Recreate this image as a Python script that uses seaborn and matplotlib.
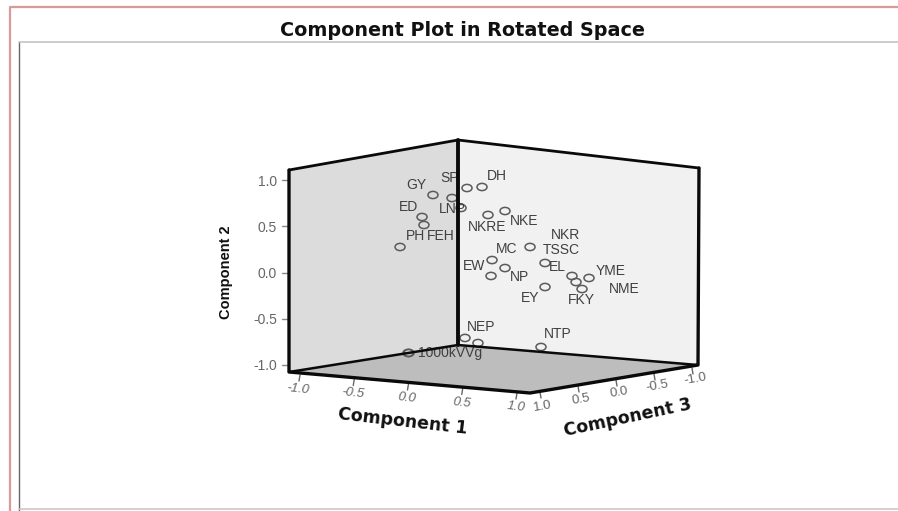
import matplotlib
matplotlib.use("Agg")
import matplotlib.pyplot as plt
from matplotlib.path import Path
from matplotlib.transforms import Affine2D
from matplotlib.markers import MarkerStyle
import seaborn as sns
import pandas as pd

# Values: plotted position in the projected plane,
# measured in Component 2 units from the centre of the back edge.
labels = ["GY", "SP", "DH", "LNP", "", "ED", "FEH", "PH", "NKRE", "NKE", "NKR", "MC",
          "NP", "EW", "TSSC", "EL", "NME", "FKY", "YME", "EY", "NEP", "", "1000kVVg", "", "NTP"]
plane_h = [-0.272, 0.098, 0.261, -0.065, 0.033, -0.391, -0.370, -0.630, 0.326, 0.511, 0.783, 0.370,
           0.511, 0.359, 0.946, 1.239, 1.283, 1.348, 1.424, 0.946, 0.076, 0.217, -0.543, -0.533, 0.902]
plane_v = [0.837, 0.913, 0.924, 0.804, 0.696, 0.598, 0.511, 0.272, 0.620, 0.663, 0.272, 0.130,
           0.043, -0.043, 0.098, -0.043, -0.109, -0.185, -0.065, -0.163, -0.717, -0.772, -0.880, -0.880, 0.0 - 0.815]
tick_values = [-1.0, -0.5, 0.0, 0.5, 1.0]
title = "Component Plot in Rotated Space"

# Label placement relative to each point (pixels right / down)
label_dx = [-17, -17, 15, 0, 0, -14, 17, 15, -1, 19, 35, 15, 14, -17, 16, -15, 48, -1, 22, -15, 16, 0, 42, 0, 17]
label_dy = [-10, -10, -11, 11, 0, -10, 11, -11, 12, 10, -12, -11, 9, -10, -13, -9, 7, 11, -7, 11, -11, 0, 0, 0, -13]

W, H, X0, Y0, SCALE = 898, 511, 458, 272, 92


def P(x, y):
    return (x - X0) / SCALE, (Y0 - y) / SCALE


def line(ax, pts, **kw):
    xs, ys = zip(*[P(*p) for p in pts])
    kw.setdefault("solid_capstyle", "round")
    ax.plot(xs, ys, **kw)


def fill(ax, pts, color):
    xs, ys = zip(*[P(*p) for p in pts])
    ax.fill(xs, ys, color=color, lw=0, zorder=1)


def lerp(a, b, v):
    t = (v + 1) / 2
    return a + t * (b - a)


sns.set_theme(style="white")
plt.rcParams["font.family"] = ["Liberation Sans", "DejaVu Sans"]

fig = plt.figure(figsize=(W / 100, H / 100), dpi=100)
ax = fig.add_axes([0, 0, 1, 1])
ax.set_xlim(P(0, 0)[0], P(W, 0)[0])
ax.set_ylim(P(0, H)[1], P(0, 0)[1])
ax.axis("off")

# Outer picture frames
line(ax, [(10, H), (10, 7), (W, 7)], color="#d99a9a", lw=1.6, zorder=1)
line(ax, [(19, H), (19, 42)], color="#666666", lw=1.0, zorder=1)
line(ax, [(19, 42), (W, 42)], color="#c4c4c4", lw=1.2, zorder=1)
line(ax, [(19, 509), (W, 509)], color="#c8c8c8", lw=1.2, zorder=1)

# Walls and floor
TL, TM, TR = (289, 170), (458, 140), (699, 168)
BL, BM, BR, BF = (289, 372), (458, 345), (698, 365), (530, 393)
fill(ax, [TL, TM, BM, BL], "#dcdcdc")
fill(ax, [TM, TR, BR, BM], "#f1f1f1")
fill(ax, [BL, BM, BR, BF], "#bdbdbd")

# Points
df = pd.DataFrame({"h": plane_h, "v": plane_v, "label": labels})
ring = Path.unit_circle().transformed(Affine2D().scale(1.0, 0.72))
sns.scatterplot(data=df, x="h", y="v", ax=ax, marker=MarkerStyle(ring), s=52,
                facecolor="none", edgecolor="#5a5a5a", linewidth=1.1, zorder=2, legend=False)
ax.set_xlabel("")
ax.set_ylabel("")

for h, v, name, dx, dy in zip(plane_h, plane_v, labels, label_dx, label_dy):
    if name:
        ax.annotate(name, (h, v), xytext=(dx * 0.72, -dy * 0.72), textcoords="offset points",
                    ha="center", va="center", fontsize=10, color="#404040", zorder=3)

# Box edges
for seg, lw in [([TL, BL, BF, BR, TR], 2.4), ([TL, TM, TR], 2.0), ([BL, BM, BR], 1.8), ([TM, BM], 2.8)]:
    line(ax, seg, color="#0a0a0a", lw=lw, zorder=4)

# Component 2 ticks
for v in tick_values:
    y = lerp(365, 180, v)
    line(ax, [(282, y), (289, y)], color="#888888", lw=1.0, zorder=3)
    ax.text(*P(277, y + 1.5), f"{v:.1f}", ha="right", va="center", fontsize=10, color="#666666")

# Component 1 ticks
for v in tick_values:
    x, y = lerp(300, 517, v), lerp(375, 393, v)
    line(ax, [(x, y), (x - 1, y + 6)], color="#666666", lw=1.0, zorder=3)
    lx, ly = lerp(298, 516, v), lerp(389, 407, v)
    ax.text(*P(lx, ly), f"{v:.1f}", ha="center", va="center", fontsize=9.5, style="italic",
            rotation=-6, rotation_mode="anchor", color="#666666")

# Component 3 ticks (runs from 1.0 at the front to -1.0 at the right)
for v in tick_values:
    x, y = lerp(692, 540, v), lerp(368, 392, v)
    line(ax, [(x, y), (x + 1, y + 6)], color="#666666", lw=1.0, zorder=3)
    lx, ly = lerp(695, 543, v), lerp(379, 406, v)
    ax.text(*P(lx, ly), f"{v:.1f}", ha="center", va="center", fontsize=9.5,
            rotation=10, rotation_mode="anchor", color="#666666")

# Titles
bold = dict(fontweight="bold", color="#111111", ha="center", va="center")
ax.text(*P(462, 30), title, family="DejaVu Sans", fontsize=13.8, **bold)
ax.text(*P(403, 421), "Component 1", family="DejaVu Sans", fontsize=12.5, rotation=-6.5,
        rotation_mode="anchor", **bold)
ax.text(*P(628, 418), "Component 3", family="DejaVu Sans", fontsize=12.5, rotation=12,
        rotation_mode="anchor", **bold)
ax.text(*P(226, 272), "Component 2", fontsize=10.5, rotation=90, **bold)

fig.savefig("out.png", dpi=100)
